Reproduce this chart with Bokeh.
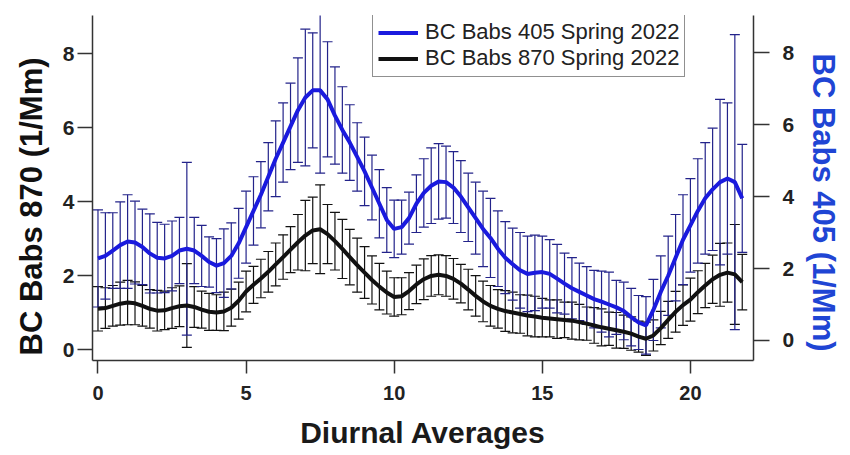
from bokeh.plotting import figure
from bokeh.models import (Range1d, LinearAxis, FixedTicker, ColumnDataSource, Whisker,
                          TeeHead, Legend, LegendItem, Title)
from bokeh.embed import file_html
from bokeh.resources import INLINE

# ---- data (15-min diurnal averages) ----
hours = [i * 0.25 for i in range(88)]

babs405 = [2.28, 2.35, 2.50, 2.65, 2.75, 2.72, 2.60, 2.42, 2.30, 2.28,
           2.35, 2.50, 2.55, 2.50, 2.35, 2.18, 2.08, 2.15, 2.35, 2.70,
           3.15, 3.60, 4.05, 4.55, 5.05, 5.50, 5.95, 6.40, 6.75, 6.95,
           6.95, 6.70, 6.25, 5.85, 5.50, 5.10, 4.70, 4.25, 3.80, 3.35,
           3.10, 3.15, 3.40, 3.80, 4.10, 4.30, 4.42, 4.40, 4.25, 4.00,
           3.70, 3.40, 3.10, 2.85, 2.55, 2.30, 2.12, 1.95, 1.85, 1.88,
           1.90, 1.85, 1.72, 1.58, 1.45, 1.35, 1.25, 1.15, 1.08, 1.00,
           0.92, 0.82, 0.65, 0.50, 0.42, 0.85, 1.35, 1.80, 2.30, 2.80,
           3.20, 3.60, 3.95, 4.20, 4.40, 4.50, 4.40, 3.95]

babs405_err = [1.35, 1.20, 1.05, 1.20, 1.30, 1.15, 1.05, 1.10, 0.98, 0.95,
               0.97, 0.92, 2.40, 0.92, 0.85, 0.70, 0.75, 0.95, 0.92, 0.97,
               1.00, 0.95, 0.92, 0.95, 1.05, 1.10, 1.20, 1.45, 1.90, 1.60,
               2.30, 1.60, 1.35, 1.20, 1.05, 0.95, 0.95, 0.90, 0.95, 0.90,
               0.80, 0.75, 0.72, 0.80, 0.95, 1.05, 1.05, 1.00, 1.00, 1.00,
               0.95, 1.00, 1.05, 1.10, 1.05, 1.00, 1.00, 1.05, 1.05, 1.05,
               1.00, 0.95, 0.95, 0.85, 0.85, 0.80, 0.80, 0.80, 0.85, 0.90,
               0.75, 0.80, 0.80, 0.75, 0.80, 0.85, 1.00, 1.10, 1.20, 1.25,
               1.30, 1.45, 1.55, 1.70, 2.30, 2.10, 4.10, 1.50]

babs870 = [1.10, 1.12, 1.18, 1.24, 1.27, 1.25, 1.18, 1.10, 1.05, 1.06,
           1.12, 1.17, 1.19, 1.15, 1.08, 1.02, 1.00, 1.03, 1.13, 1.32,
           1.57, 1.75, 1.92, 2.10, 2.30, 2.50, 2.70, 2.90, 3.08, 3.22,
           3.25, 3.12, 2.93, 2.72, 2.50, 2.28, 2.08, 1.88, 1.70, 1.54,
           1.42, 1.44, 1.58, 1.76, 1.90, 1.99, 2.02, 1.99, 1.91, 1.78,
           1.62, 1.45, 1.30, 1.18, 1.10, 1.04, 1.00, 0.96, 0.92, 0.89,
           0.86, 0.84, 0.82, 0.80, 0.78, 0.74, 0.70, 0.65, 0.60, 0.56,
           0.52, 0.48, 0.43, 0.35, 0.29, 0.38, 0.58, 0.80, 1.02, 1.20,
           1.35, 1.55, 1.73, 1.90, 2.02, 2.08, 2.03, 1.82]

babs870_err = [0.60, 0.55, 0.55, 0.58, 0.60, 0.58, 0.55, 0.52, 0.55, 0.52,
               0.55, 0.55, 1.13, 0.55, 0.50, 0.50, 0.48, 0.52, 0.50, 0.50,
               0.55, 0.50, 0.52, 0.55, 0.58, 0.60, 0.62, 0.75, 0.95, 0.90,
               1.20, 0.80, 0.78, 0.80, 0.75, 0.73, 0.70, 0.65, 0.63, 0.58,
               0.52, 0.50, 0.50, 0.52, 0.55, 0.55, 0.54, 0.55, 0.55, 0.52,
               0.55, 0.55, 0.55, 0.55, 0.52, 0.55, 0.55, 0.52, 0.55, 0.55,
               0.52, 0.50, 0.52, 0.48, 0.50, 0.48, 0.45, 0.48, 0.50, 0.45,
               0.48, 0.45, 0.45, 0.42, 0.45, 0.42, 0.45, 0.50, 0.55, 0.55,
               0.58, 0.58, 0.60, 0.65, 0.85, 0.80, 1.35, 0.75]

x_ticks = [0, 5, 10, 15, 20]
y_ticks = [0, 2, 4, 6, 8]

BLUE = "#1a1ade"
BLUE_ERR = "#23238a"
BLUE_LABEL = "#1f45d4"
BLACK = "#111111"
FONT = "Liberation Sans"

src = ColumnDataSource(dict(
    x=hours, b=babs405, b_up=[v + e for v, e in zip(babs405, babs405_err)],
    b_lo=[v - e for v, e in zip(babs405, babs405_err)],
    k=babs870, k_up=[v + e for v, e in zip(babs870, babs870_err)],
    k_lo=[v - e for v, e in zip(babs870, babs870_err)],
))

p = figure(width=850, height=455, output_backend="svg", toolbar_location=None,
           title=None, x_range=Range1d(-0.185, 22.13), y_range=Range1d(-0.297, 9.03),
           min_border_left=90, min_border_right=95, min_border_top=15, min_border_bottom=95,
           background_fill_color="white", border_fill_color="white")
p.outline_line_color = None
p.xgrid.visible = False
p.ygrid.visible = False
p.extra_y_ranges = {"right": Range1d(-0.556, 9.03)}

# error bars
wk = Whisker(base="x", upper="k_up", lower="k_lo", source=src, dimension="height",
             line_color=BLACK, line_width=1.2, level="underlay",
             upper_head=TeeHead(size=10, line_color=BLACK, line_width=1.2),
             lower_head=TeeHead(size=10, line_color=BLACK, line_width=1.2))
wb = Whisker(base="x", upper="b_up", lower="b_lo", source=src, dimension="height",
             y_range_name="right", line_color=BLUE_ERR, line_width=1.2, level="underlay",
             upper_head=TeeHead(size=10, line_color=BLUE_ERR, line_width=1.2),
             lower_head=TeeHead(size=10, line_color=BLUE_ERR, line_width=1.2))
p.add_layout(wk)
p.add_layout(wb)

kl = p.line("x", "k", source=src, line_color=BLACK, line_width=4)
bl = p.line("x", "b", source=src, line_color=BLUE, line_width=4, y_range_name="right")

# axes
def style_axis(ax, tick_out, standoff):
    ax.axis_line_color = "#333333"
    ax.axis_line_width = 1.5
    ax.major_tick_line_color = "#333333"
    ax.major_tick_line_width = 1.5
    ax.major_tick_in = 0
    ax.major_tick_out = tick_out
    ax.minor_tick_line_color = None
    ax.major_label_standoff = standoff
    ax.major_label_text_font = FONT
    ax.major_label_text_font_style = "bold"
    ax.major_label_text_font_size = "21px"
    ax.major_label_text_color = "#222222"

xa = p.xaxis[0]
xa.ticker = FixedTicker(ticks=x_ticks)
style_axis(xa, 13, 12)
xa.major_label_text_font_size = "20px"
xa.axis_label = "Diurnal Averages"
xa.axis_label_text_font = FONT
xa.axis_label_text_font_style = "bold"
xa.axis_label_text_font_size = "30px"
xa.axis_label_text_color = "#1a1a1a"
xa.axis_label_standoff = 13

ya = p.yaxis[0]
ya.ticker = FixedTicker(ticks=y_ticks)
style_axis(ya, 15, 3)

ra = LinearAxis(y_range_name="right", ticker=FixedTicker(ticks=y_ticks))
style_axis(ra, 16, 13)
p.add_layout(ra, "right")

lt = Title(text="BC Babs 870 (1/Mm)", align="left", offset=5, text_font=FONT,
           text_font_style="bold", text_font_size="31px", text_color="#111111", standoff=22)
p.add_layout(lt, "left")
rt = Title(text="BC Babs 405 (1/Mm)", align="left", offset=38, text_font=FONT,
           text_font_style="bold", text_font_size="31px", text_color=BLUE_LABEL, standoff=16)
p.add_layout(rt, "right")

legend = Legend(items=[LegendItem(label="BC Babs 405 Spring 2022", renderers=[bl]),
                       LegendItem(label="BC Babs 870 Spring 2022", renderers=[kl])],
                location=(280, 283), orientation="vertical")
legend.border_line_color = "#222222"
legend.border_line_width = 1.2
legend.background_fill_color = "white"
legend.background_fill_alpha = 1.0
legend.padding = 5
legend.spacing = 0
legend.margin = 0
legend.label_height = 25
legend.glyph_height = 25
legend.glyph_width = 40
legend.label_standoff = 7
legend.label_text_font = FONT
legend.label_text_font_size = "22px"
legend.label_text_color = "#222222"
p.add_layout(legend)

open("out.html", "w").write(file_html(p, INLINE))
